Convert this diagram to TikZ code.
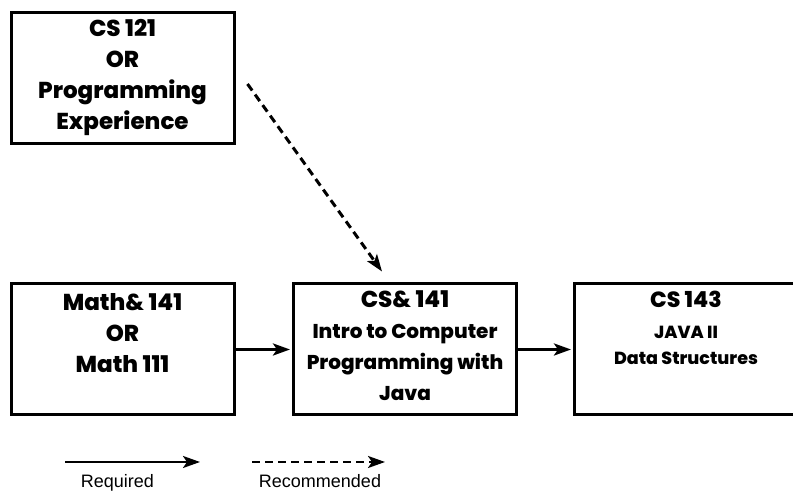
\documentclass[tikz,border=0pt]{standalone}
\usepackage{fontspec}
\newfontfamily\boxfont{Poppins}[BoldFont=* ExtraBold]
\newfontfamily\legendfont{Liberation Sans}
\usetikzlibrary{positioning,arrows.meta}
\newcommand\subsize{\fontsize{20}{30}\selectfont}
\newcommand\smallsize{\fontsize{17.5}{24}\selectfont}
\tikzset{
  course/.style={draw, line width=3pt, minimum width=223pt, minimum height=131pt, inner sep=0pt},
  coursetext/.style={align=center, inner sep=0pt, font=\boxfont\bfseries\fontsize{23}{31}\selectfont},
  required/.style={line width=3pt, -{Stealth[length=17pt,width=12pt,inset=4pt]}},
  recommended/.style={required, dash pattern=on 8pt off 5pt},
  legendtext/.style={anchor=base, font=\legendfont\fontsize{18}{18}\selectfont}
}
\begin{document}
\begin{tikzpicture}[x=1pt,y=1pt]
        \useasboundingbox (0,0) rectangle (793,494);
        % courses
        \node[course, coursetext] (cs121) at (122.5,416) {CS 121\\OR\\Programming\\Experience};
        \node[course] (math) at (122.5,144.5) {};
        \node[coursetext, below=11pt of math.north] (math text) {Math\& 141\\OR\\Math 111};
        \node[course] (cs141) at (405,144.5) {};
        \node[coursetext, below=8pt of cs141.north] (cs141 text) {CS\& 141\\\subsize Intro to Computer\\\subsize Programming with\\\subsize Java};
        \node[course] (cs143) at (686,144.5) {};
        \node[coursetext, below=8pt of cs143.north] (cs143 text) {\fontsize{22}{24}\selectfont CS 143\\[0pt]\smallsize JAVA II\\[-5pt]\smallsize Data Structures};
        % prerequisites
        \draw[required, shorten >=2pt] (math) -- (cs141);
        \draw[required, shorten >=2pt] (cs141) -- (cs143);
        \draw[recommended] ([xshift=12pt,yshift=-6pt]cs121.east) -- ([xshift=-23pt,yshift=11pt]cs141.north);
        % legend
        \coordinate (req start) at (65,32);
        \coordinate (req end) at (200,32);
        \coordinate (rec start) at (252,32);
        \coordinate (rec end) at (385,32);
        \draw[required, line width=2.4pt] (req start) -- (req end);
        \draw[recommended, line width=2.4pt] (rec start) -- (rec end);
        \node[legendtext] (req label) at (117.5,6) {Required};
        \node[legendtext] (rec label) at (320,6) {Recommended};
\end{tikzpicture}
\end{document}
